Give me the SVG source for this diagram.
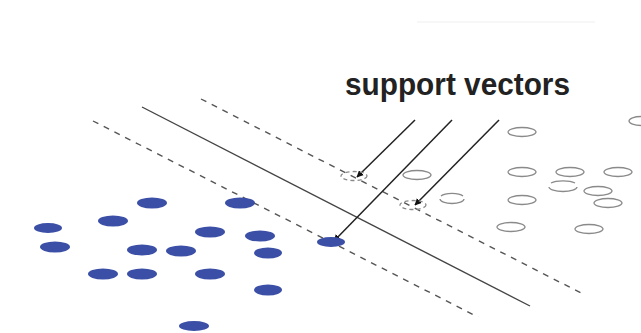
<svg xmlns="http://www.w3.org/2000/svg" width="641" height="333" viewBox="0 0 641 333">
  <style>
    .pos { fill: #3b4fa6; }
    .neg { fill: none; stroke: #8a8a8a; stroke-width: 1.3; }
    .margin { fill: none; stroke: #555; stroke-width: 1.4; stroke-dasharray: 6 6; }
    .boundary { fill: none; stroke: #444; stroke-width: 1.4; }
    .pointer { fill: none; stroke: #222; stroke-width: 1.5; marker-end: url(#tip); }
    .label { font-family: "Liberation Sans", Arial, sans-serif; font-weight: bold; font-size: 31px; fill: #222; }
  </style>
  <defs>
    <marker id="tip" viewBox="0 0 10 10" refX="9" refY="5" markerWidth="7" markerHeight="7" orient="auto" markerUnits="userSpaceOnUse">
      <path d="M0,0 L10,5 L0,10 z" fill="#111"/>
    </marker>
  </defs>

  <rect width="641" height="333" fill="#fff"/>
  <line x1="417" y1="22" x2="595" y2="22" stroke="#f4f4f4" stroke-width="1.5"/>

  <!-- separating hyperplane and margins -->
  <g id="connectors">
    <line class="margin" x1="93" y1="121" x2="478" y2="317"/>
    <line class="boundary" x1="142" y1="107" x2="530" y2="306"/>
    <line class="margin" x1="201" y1="99" x2="585" y2="295"/>
    <line class="pointer" x1="415" y1="120" x2="357" y2="177"/>
    <line class="pointer" x1="452" y1="120" x2="334" y2="241"/>
    <line class="pointer" x1="499" y1="120" x2="415" y2="205"/>
  </g>

  <!-- class A samples -->
  <g id="class-a">
    <ellipse class="pos" cx="152" cy="203" rx="15" ry="5.5"/>
    <ellipse class="pos" cx="240" cy="203" rx="15" ry="5.5"/>
    <ellipse class="pos" cx="113" cy="221" rx="15" ry="5.5"/>
    <ellipse class="pos" cx="48" cy="228" rx="14" ry="5"/>
    <ellipse class="pos" cx="210" cy="232" rx="15" ry="5.5"/>
    <ellipse class="pos" cx="260" cy="236" rx="15" ry="5.5"/>
    <ellipse class="pos" cx="55" cy="247" rx="15" ry="5.5"/>
    <ellipse class="pos" cx="142" cy="250" rx="15" ry="5.5"/>
    <ellipse class="pos" cx="181" cy="251" rx="15" ry="5.5"/>
    <ellipse class="pos" cx="268" cy="253" rx="14" ry="5.5"/>
    <ellipse class="pos" cx="103" cy="274" rx="15" ry="5.5"/>
    <ellipse class="pos" cx="142" cy="274" rx="15" ry="5.5"/>
    <ellipse class="pos" cx="210" cy="274" rx="15" ry="5.5"/>
    <ellipse class="pos" cx="268" cy="290" rx="14" ry="5.5"/>
    <ellipse class="pos" cx="194" cy="326" rx="15" ry="5"/>
    <ellipse id="sv-a" class="pos" cx="331" cy="242" rx="14" ry="5"/>
  </g>

  <!-- class B samples -->
  <g id="class-b">
    <ellipse class="neg" cx="522" cy="132" rx="14" ry="4.5"/>
    <ellipse class="neg" cx="641" cy="121" rx="12" ry="4.5"/>
    <ellipse class="neg" cx="417" cy="175" rx="14" ry="4.5"/>
    <ellipse class="neg" cx="522" cy="172" rx="14" ry="4.5"/>
    <ellipse class="neg" cx="570" cy="172" rx="14" ry="4.5"/>
    <ellipse class="neg" cx="618" cy="172" rx="14" ry="4.5"/>
    <path class="neg" d="M549,187 A14,4.5 0 0,0 577,187 M551,183 A14,4.5 0 0,1 575,183"/>
    <path class="neg" d="M440,199 A12,4.5 0 0,0 464,199 M441,196 A12,4.5 0 0,1 463,196"/>
    <ellipse class="neg" cx="598" cy="191" rx="14" ry="4.5"/>
    <ellipse class="neg" cx="522" cy="200" rx="14" ry="4.5"/>
    <ellipse class="neg" cx="608" cy="203" rx="14" ry="4.5"/>
    <ellipse class="neg" cx="511" cy="227" rx="14" ry="4.5"/>
    <ellipse class="neg" cx="589" cy="229" rx="14" ry="4.5"/>
    <ellipse id="sv-b1" class="neg" cx="354" cy="176" rx="13" ry="4.5" stroke-dasharray="4 3"/>
    <ellipse id="sv-b2" class="neg" cx="413" cy="205" rx="13" ry="4.5" stroke-dasharray="4 3"/>
  </g>

  <g id="caption">
    <text class="label" x="345" y="95" textLength="225" lengthAdjust="spacingAndGlyphs">support vectors</text>
  </g>
</svg>
